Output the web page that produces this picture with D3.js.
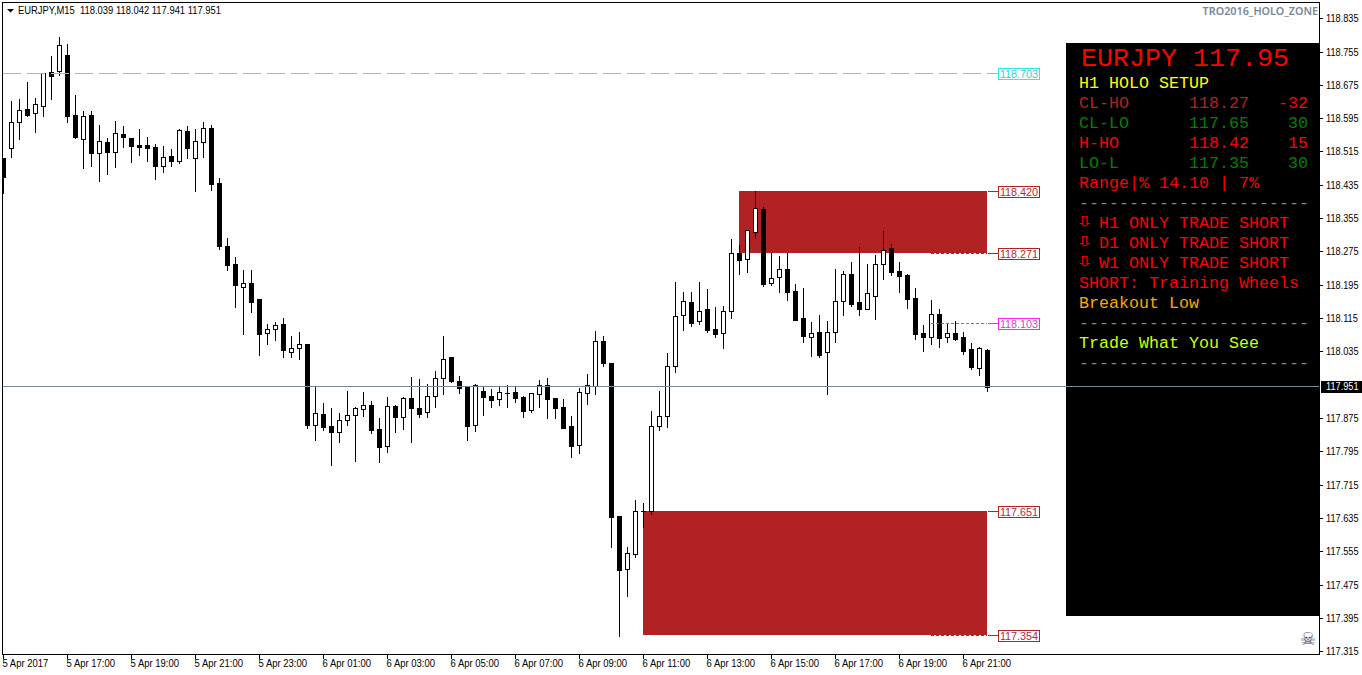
<!DOCTYPE html>
<html><head><meta charset="utf-8">
<script src="https://cdn.jsdelivr.net/npm/d3@7"></script>
<style>html,body{margin:0;padding:0;background:#fff;overflow:hidden}svg{display:block}</style>
</head><body><svg id="c" width="1362" height="675"></svg>
<script>
const opens=[118.501,118.525,118.587,118.618,118.609,118.625,118.707,118.709,118.748,118.604,118.546,118.604,118.513,118.539,118.515,118.558,118.549,118.532,118.532,118.527,118.481,118.505,118.493,118.565,118.501,118.539,118.573,118.441,118.289,118.246,118.191,118.200,118.162,118.080,118.090,118.102,118.035,118.044,118.054,117.859,117.886,117.857,117.843,117.871,117.883,117.898,117.907,117.850,117.809,117.905,117.879,117.924,117.900,117.891,117.929,117.972,118.023,117.965,117.951,117.859,117.941,117.929,117.922,117.936,117.939,117.927,117.895,117.934,117.955,117.924,117.903,117.857,117.811,117.936,117.953,118.061,118.008,117.641,117.514,117.550,117.653,117.653,117.857,117.881,118.001,118.124,118.155,118.109,118.138,118.090,118.080,118.133,118.272,118.258,118.323,118.378,118.200,118.215,118.234,118.181,118.116,118.071,118.083,118.035,118.083,118.157,118.222,118.155,118.138,118.169,118.246,118.284,118.229,118.220,118.164,118.080,118.071,118.126,118.071,118.080,118.071,118.042,117.996,118.039];
const highs=[118.501,118.637,118.642,118.683,118.645,118.705,118.746,118.791,118.774,118.652,118.613,118.613,118.580,118.549,118.589,118.577,118.549,118.570,118.551,118.534,118.529,118.522,118.570,118.577,118.570,118.587,118.580,118.453,118.308,118.263,118.232,118.232,118.162,118.102,118.107,118.116,118.073,118.083,118.054,117.953,117.912,117.900,117.888,117.941,117.903,117.939,117.917,117.876,117.927,117.907,117.927,117.975,117.970,117.958,117.989,118.073,118.023,117.977,117.951,117.958,117.951,117.946,117.951,117.955,117.951,117.929,117.936,117.967,117.972,117.924,117.922,117.881,117.948,117.982,118.085,118.073,118.008,117.641,117.566,117.679,117.672,117.893,117.941,118.032,118.203,118.179,118.179,118.203,118.186,118.143,118.145,118.306,118.292,118.328,118.421,118.383,118.272,118.265,118.272,118.198,118.188,118.107,118.124,118.109,118.234,118.229,118.251,118.287,118.246,118.268,118.325,118.294,118.251,118.222,118.188,118.099,118.160,118.138,118.104,118.109,118.083,118.056,118.047,118.042];
const lows=[118.417,118.503,118.546,118.601,118.563,118.601,118.642,118.700,118.587,118.549,118.477,118.481,118.445,118.462,118.479,118.527,118.491,118.508,118.493,118.450,118.467,118.481,118.489,118.501,118.421,118.503,118.424,118.282,118.232,118.143,118.078,118.131,118.027,118.054,118.063,118.023,118.023,118.018,117.852,117.823,117.847,117.763,117.819,117.859,117.773,117.881,117.840,117.771,117.795,117.843,117.850,117.819,117.879,117.879,117.903,117.934,117.963,117.936,117.823,117.845,117.883,117.903,117.907,117.903,117.915,117.879,117.891,117.903,117.876,117.876,117.852,117.783,117.792,117.910,117.934,118.001,117.566,117.353,117.449,117.542,117.614,117.646,117.847,117.855,117.987,118.088,118.097,118.102,118.083,118.071,118.044,118.116,118.222,118.227,118.308,118.193,118.196,118.179,118.160,118.112,118.059,118.025,118.023,117.934,118.059,118.124,118.145,118.124,118.138,118.114,118.210,118.220,118.179,118.140,118.066,118.037,118.054,118.047,118.059,118.063,118.030,117.994,117.979,117.941];
const closes=[118.455,118.587,118.616,118.604,118.630,118.705,118.697,118.772,118.601,118.551,118.601,118.513,118.541,118.515,118.561,118.551,118.529,118.527,118.525,118.481,118.503,118.493,118.568,118.525,118.541,118.573,118.438,118.289,118.244,118.196,118.200,118.155,118.078,118.090,118.099,118.040,118.044,118.054,117.859,117.888,117.855,117.843,117.871,117.883,117.900,117.907,117.847,117.807,117.905,117.879,117.924,117.900,117.886,117.929,117.972,118.018,117.965,117.948,117.857,117.955,117.927,117.919,117.939,117.936,117.924,117.893,117.936,117.955,117.922,117.900,117.852,117.809,117.939,117.955,118.061,118.008,117.638,117.511,117.552,117.653,117.653,117.857,117.881,118.001,118.121,118.157,118.104,118.133,118.088,118.078,118.133,118.272,118.256,118.328,118.381,118.198,118.212,118.234,118.179,118.112,118.073,118.080,118.027,118.083,118.157,118.222,118.150,118.138,118.176,118.246,118.280,118.227,118.217,118.162,118.078,118.071,118.126,118.068,118.080,118.066,118.037,117.999,118.044,117.951];

const priceTicks=["118.835","118.755","118.675","118.595","118.515","118.435","118.355","118.275","118.195","118.115","118.035","117.875","117.795","117.715","117.635","117.555","117.475","117.395","117.315"];
const timeLabels=["5 Apr 2017","5 Apr 17:00","5 Apr 19:00","5 Apr 21:00","5 Apr 23:00","6 Apr 01:00","6 Apr 03:00","6 Apr 05:00","6 Apr 07:00","6 Apr 09:00","6 Apr 11:00","6 Apr 13:00","6 Apr 15:00","6 Apr 17:00","6 Apr 19:00","6 Apr 21:00"];
const timeIndex=[0,8,16,24,32,40,48,56,64,72,80,88,96,104,112,120];
const zones=[{hi:118.420,lo:118.271,from:92,to:123},{hi:117.651,lo:117.354,from:80,to:123}];
const levels=[
 {p:118.703,t:"118.703",c:"#30e8e8",tc:"#30d0d8"},
 {p:118.420,t:"118.420",c:"#b22222",tc:"#b22c2c"},
 {p:118.271,t:"118.271",c:"#b22222",tc:"#b22c2c"},
 {p:118.103,t:"118.103",c:"#ff22ee",tc:"#d43fc8"},
 {p:117.651,t:"117.651",c:"#b22222",tc:"#b0284a"},
 {p:117.354,t:"117.354",c:"#b22222",tc:"#b0284a"}];
const bid=117.951;
const title="EURJPY,M15  118.039 118.042 117.941 117.951";
const panelRows=[
 {t:"H1 HOLO SETUP",x:1079,y:88,c:"#ffff00"},
 {t:"CL-HO",x:1079,y:108,c:"#b22222"},{t:"118.27",x:1189,y:108,c:"#b22222"},{t:"-32",x:1278,y:108,c:"#ff0000"},
 {t:"CL-LO",x:1079,y:128,c:"#008000"},{t:"117.65",x:1189,y:128,c:"#008000"},{t:"30",x:1288,y:128,c:"#008000"},
 {t:"H-HO",x:1079,y:148,c:"#ff0000"},{t:"118.42",x:1189,y:148,c:"#ff0000"},{t:"15",x:1288,y:148,c:"#ff0000"},
 {t:"LO-L",x:1079,y:168,c:"#008000"},{t:"117.35",x:1189,y:168,c:"#008000"},{t:"30",x:1288,y:168,c:"#008000"},
 {t:"Range|% 14.10 | 7%",x:1079,y:188,c:"#ff0000"},
 {t:"-----------------------",x:1079,y:208,c:"#778899"},
 {t:"H1 ONLY TRADE SHORT",x:1099,y:228,c:"#ff0000"},
 {t:"D1 ONLY TRADE SHORT",x:1099,y:248,c:"#ff0000"},
 {t:"W1 ONLY TRADE SHORT",x:1099,y:268,c:"#ff0000"},
 {t:"SHORT: Training Wheels",x:1079,y:288,c:"#ff0000"},
 {t:"Breakout Low",x:1079,y:308,c:"#ffa500"},
 {t:"-----------------------",x:1079,y:328,c:"#778899"},
 {t:"Trade What You See",x:1079,y:348,c:"#ccff00"},
 {t:"-----------------------",x:1079,y:368,c:"#778899"}];
const arrowRows=[226,246,266];

const svg=d3.select("#c");
const candles=opens.map((o,i)=>({i,o,h:highs[i],l:lows[i],c:closes[i]}));
const x=d3.scaleLinear().domain([0,123]).range([3,987]);
const y=d3.scaleLinear().domain([118.835,117.315]).range([18.74,651.67]);
const Y=p=>Math.round(y(p));
const F=p=>Math.floor(y(p));
const mono="'Liberation Mono',monospace", sans="'DejaVu Sans',sans-serif", ui="'Liberation Sans',Arial,sans-serif", noto="'Noto Sans',sans-serif";
const squeeze=(sel,r)=>sel.each(function(){const n=this.getComputedTextLength();d3.select(this).attr("textLength",(n*r).toFixed(1)).attr("lengthAdjust","spacingAndGlyphs")});

svg.append("defs").append("clipPath").attr("id","plot").append("rect").attr("x",2).attr("y",2).attr("width",1317).attr("height",652);
const plot=svg.append("g").attr("clip-path","url(#plot)");

plot.selectAll("rect.zone").data(zones).join("rect").attr("class","zone")
 .attr("x",d=>x(d.from)).attr("width",d=>x(d.to)-x(d.from))
 .attr("y",d=>F(d.hi)).attr("height",d=>F(d.lo)-F(d.hi)).attr("fill","#b22222");

plot.selectAll("line.wick").data(candles).join("line").attr("class","wick")
 .attr("x1",d=>x(d.i)+.5).attr("x2",d=>x(d.i)+.5)
 .attr("y1",d=>Y(d.h)).attr("y2",d=>Y(d.l)+1).attr("stroke","#000");

const bodies=candles.filter(d=>d.o!==d.c);
plot.selectAll("rect.body").data(bodies).join("rect").attr("class","body")
 .attr("x",d=>d.c>d.o?x(d.i)-1.5:x(d.i)-2)
 .attr("width",d=>d.c>d.o?4:5)
 .attr("y",d=>d.c>d.o?Y(d.c)+.5:Y(d.o))
 .attr("height",d=>d.c>d.o?Math.max(Y(d.o)-Y(d.c),1):Math.max(Y(d.c)-Y(d.o)+1,1))
 .attr("fill",d=>d.c>d.o?"#fff":"#000")
 .attr("stroke",d=>d.c>d.o?"#000":"none");
plot.selectAll("line.doji").data(candles.filter(d=>d.o===d.c)).join("line").attr("class","doji")
 .attr("x1",d=>x(d.i)-2).attr("x2",d=>x(d.i)+3)
 .attr("y1",d=>Y(d.o)+.5).attr("y2",d=>Y(d.o)+.5).attr("stroke","#000");

// long dashed level
plot.append("line").attr("x1",3).attr("x2",998).attr("y1",F(118.703)+.5).attr("y2",F(118.703)+.5)
 .attr("stroke","#30e8e8").attr("stroke-dasharray","18 6");
// short dotted levels at the right of the zones
const dots=[{p:118.271,c:"#b22222"},{p:118.103,c:"#ff22ee"},{p:117.354,c:"#b22222"}];
plot.selectAll("line.dot").data(dots).join("line").attr("class","dot")
 .attr("x1",x(116)).attr("x2",x(123)).attr("y1",d=>F(d.p)+.5).attr("y2",d=>F(d.p)+.5)
 .attr("stroke",d=>d.c).attr("stroke-dasharray","3 2");

// panel
svg.append("rect").attr("x",1066).attr("y",43).attr("width",254).attr("height",573).attr("fill","#000");
svg.append("text").attr("x",1081).attr("y",66).attr("font-family",mono).attr("font-size",26.67).attr("fill","#ff0000").text("EURJPY 117.95");
svg.selectAll("text.row").data(panelRows).join("text").attr("class","row")
 .attr("x",d=>d.x).attr("y",d=>d.y).attr("font-family",mono).attr("font-size",16.67).attr("fill",d=>d.c).attr("xml:space","preserve").text(d=>d.t);
svg.selectAll("text.arr").data(arrowRows).join("text").attr("class","arr")
 .attr("transform",d=>`translate(1075,${d}) scale(1.6,1)`).attr("font-family",sans).attr("font-size",14).attr("fill","#ff0000").text("\u21e9");

// bid line over all
svg.append("line").attr("x1",2).attr("x2",1320).attr("y1",F(bid)+.5).attr("y2",F(bid)+.5).attr("stroke","#778899");

// level connectors and labels
const lab=svg.selectAll("g.lab").data(levels).join("g").attr("class","lab").attr("transform",d=>`translate(0,${F(d.p)})`);
lab.append("line").attr("x1",988).attr("x2",998).attr("y1",.5).attr("y2",.5).attr("stroke",d=>d.c);
lab.append("rect").attr("x",998.5).attr("y",-4.5).attr("width",41).attr("height",11).attr("fill","#fff").attr("stroke",d=>d.c);
lab.append("text").attr("x",1019).attr("y",5).attr("text-anchor","middle").attr("font-family",ui).attr("font-size",10.8).attr("fill",d=>d.tc).text(d=>d.t);

// frame
svg.append("rect").attr("x",2.5).attr("y",2.5).attr("width",1317).attr("height",652).attr("fill","none").attr("stroke","#000");

// axes
const yAxis=d3.axisRight(y).tickValues(priceTicks.map(Number)).tickFormat(d3.format(".3f")).tickSize(3);
const gy=svg.append("g").attr("transform","translate(1320,0)").call(yAxis);
gy.select(".domain").remove();
gy.selectAll(".tick").attr("transform",d=>`translate(0,${F(d)+.5})`);
gy.selectAll("line").attr("stroke","#000");
gy.selectAll("text").attr("font-family",ui).attr("font-size",10.3).attr("fill","#000").attr("x",6).attr("dy",3.5).call(squeeze,.89);
const xAxis=d3.axisBottom(x).tickValues(timeIndex).tickFormat((d,i)=>timeLabels[i]).tickSize(4).tickPadding(1);
const gx=svg.append("g").attr("transform","translate(0,655)").call(xAxis);
gx.select(".domain").remove();
gx.selectAll("line").attr("stroke","#000");
gx.selectAll("text").attr("font-family",ui).attr("font-size",10.3).attr("fill","#000").attr("text-anchor","start").attr("dx",-1).call(squeeze,.92);

// bid tag
svg.append("rect").attr("x",1321).attr("y",F(bid)-5).attr("width",41).attr("height",12).attr("fill","#000");
svg.append("text").attr("x",1326).attr("y",F(bid)+4).attr("font-family",ui).attr("font-size",10.3).attr("fill","#fff").text(bid.toFixed(3)).call(squeeze,.89);

// header
svg.append("path").attr("d",d3.line()([[7,9],[14,9],[10.5,12.5]])+"Z").attr("fill","#000");
svg.append("text").attr("x",18).attr("y",14).attr("font-family",ui).attr("font-size",10.3).attr("fill","#000").attr("xml:space","preserve").text(title).attr("textLength",203).attr("lengthAdjust","spacingAndGlyphs");
svg.append("text").attr("x",1318).attr("y",15).attr("text-anchor","end").attr("font-family",noto).attr("font-size",10.8).attr("font-weight",600).attr("fill","#778899").text("TRO2016_HOLO_ZONE");
svg.append("text").attr("x",1308).attr("y",645).attr("text-anchor","middle").attr("font-family",sans).attr("font-size",18).attr("fill","#4a4f5a").text("\u2620");
</script></body></html>
